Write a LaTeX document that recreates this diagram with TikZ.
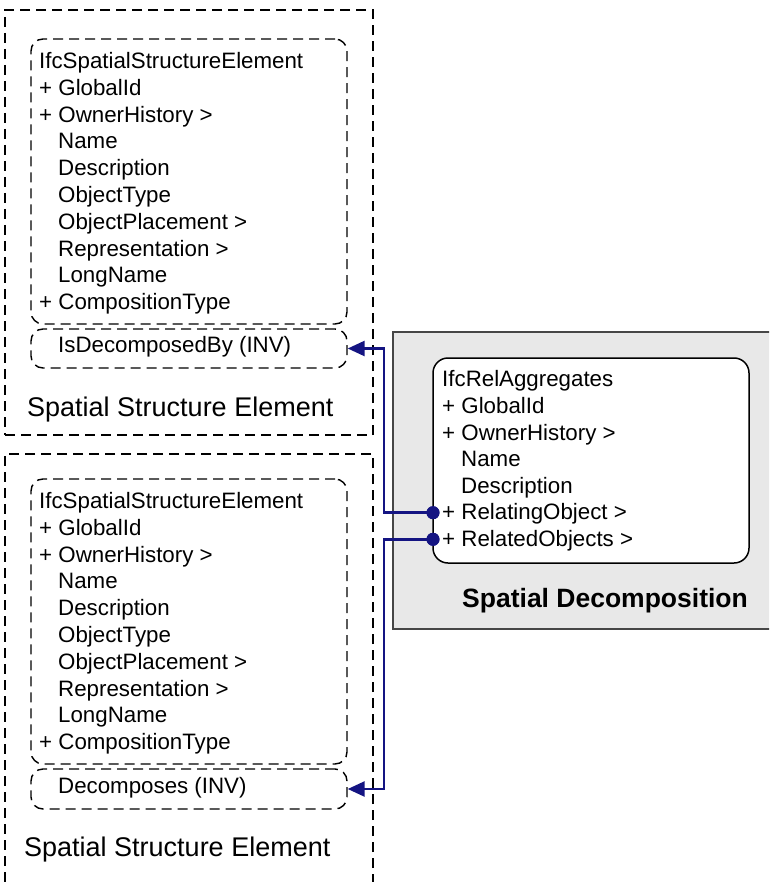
\documentclass[tikz,border=0pt]{standalone}
\usepackage{fontspec}
\setmainfont{Liberation Sans}
\usetikzlibrary{arrows.meta}
\definecolor{linkblue}{RGB}{20,20,130}
\definecolor{panelgray}{RGB}{232,232,232}
\definecolor{paneledge}{RGB}{70,70,70}
\begin{document}
\begin{tikzpicture}[x=1pt,y=-1pt,
  groupbox/.style={draw, dash pattern=on 10pt off 6pt, line width=1.4pt, inner sep=0pt},
  attrbox/.style={draw, dash pattern=on 10pt off 6pt, line width=1.4pt, rounded corners=12pt, inner sep=0pt, minimum width=316pt},
  entitybox/.style={draw, line width=1.5pt, rounded corners=15pt, fill=white, inner sep=0pt},
  attr/.style={anchor=base west, font=\fontsize{22.3}{26}\selectfont, inner sep=0pt},
  grouplabel/.style={anchor=base west, font=\fontsize{27}{32}\selectfont, inner sep=0pt},
  paneltitle/.style={anchor=base west, font=\fontsize{26.5}{31}\selectfont\bfseries, inner sep=0pt},
  link/.style={draw=linkblue, line width=2.6pt},
  linkarrow/.style={link, -{Triangle[length=17pt,width=15pt]}},
  dot/.style={circle, fill=linkblue, inner sep=0pt, minimum size=13pt}]
\useasboundingbox (0,0) rectangle (769,882);
\clip (0,0) rectangle (769,882);

% ---- relationship panel ----
\node[draw=paneledge, fill=panelgray, line width=1.4pt, inner sep=0pt,
      minimum width=397pt, minimum height=297pt] (panel) at (591.5,480.5) {};
\node[entitybox, minimum width=316pt, minimum height=205pt] (rel) at (591,460.5) {};
\node[attr] (relT) at (442,386.7) {IfcRelAggregates};
\node[attr] (relG) at (442,413.3) {+ GlobalId};
\node[attr] (relO) at (442,440.0) {+ OwnerHistory >};
\node[attr] (relN) at (461,466.6) {Name};
\node[attr] (relD) at (461,493.2) {Description};
\node[attr] (relR) at (442,519.8) {+ RelatingObject >};
\node[attr] (relS) at (442,546.4) {+ RelatedObjects >};
\node[paneltitle] (panelT) at (462,607.3) {Spatial Decomposition};

% ---- upper spatial structure element ----
\node[groupbox, minimum width=368pt, minimum height=425pt] (groupA) at (189,222.5) {};
\node[attrbox, minimum height=285pt] (attrA) at (189,181.5) {};
\node[attrbox, minimum height=39pt] (invA) at (189,348.5) {};
\node[attr] (aT) at (39,68.5) {IfcSpatialStructureElement};
\node[attr] (aG) at (39,95.3) {+ GlobalId};
\node[attr] (aO) at (39,122.1) {+ OwnerHistory >};
\node[attr] (aN) at (58,148.9) {Name};
\node[attr] (aD) at (58,175.7) {Description};
\node[attr] (aY) at (58,202.5) {ObjectType};
\node[attr] (aP) at (58,229.3) {ObjectPlacement >};
\node[attr] (aR) at (58,256.1) {Representation >};
\node[attr] (aL) at (58,282.9) {LongName};
\node[attr] (aC) at (39,309.7) {+ CompositionType};
\node[attr] (aI) at (58,352.7) {IsDecomposedBy (INV)};
\node[grouplabel] (aLabel) at (27,416) {Spatial Structure Element};

% ---- lower spatial structure element ----
\node[groupbox, minimum width=368pt, minimum height=446pt] (groupB) at (189,677) {};
\node[attrbox, minimum height=285pt] (attrB) at (189,621.5) {};
\node[attrbox, minimum height=40pt] (invB) at (189,789) {};
\node[attr] (bT) at (39,508.5) {IfcSpatialStructureElement};
\node[attr] (bG) at (39,535.3) {+ GlobalId};
\node[attr] (bO) at (39,562.1) {+ OwnerHistory >};
\node[attr] (bN) at (58,588.9) {Name};
\node[attr] (bD) at (58,615.7) {Description};
\node[attr] (bY) at (58,642.5) {ObjectType};
\node[attr] (bP) at (58,669.3) {ObjectPlacement >};
\node[attr] (bR) at (58,696.1) {Representation >};
\node[attr] (bL) at (58,722.9) {LongName};
\node[attr] (bC) at (39,749.7) {+ CompositionType};
\node[attr] (bI) at (58,793.3) {Decomposes (INV)};
\node[grouplabel] (bLabel) at (24,856.7) {Spatial Structure Element};

% ---- connectors ----
\node[dot] (relatingEnd) at (433,512.7) {};
\node[dot] (relatedEnd) at (433,539.3) {};
\draw[linkarrow] (relatingEnd.center) -- ++(-49,0) |- (invA.east);
\draw[linkarrow] (relatedEnd.center) -- ++(-49,0) |- (invB.east);
\node[dot] at (relatingEnd) {};
\node[dot] at (relatedEnd) {};
\end{tikzpicture}
\end{document}
